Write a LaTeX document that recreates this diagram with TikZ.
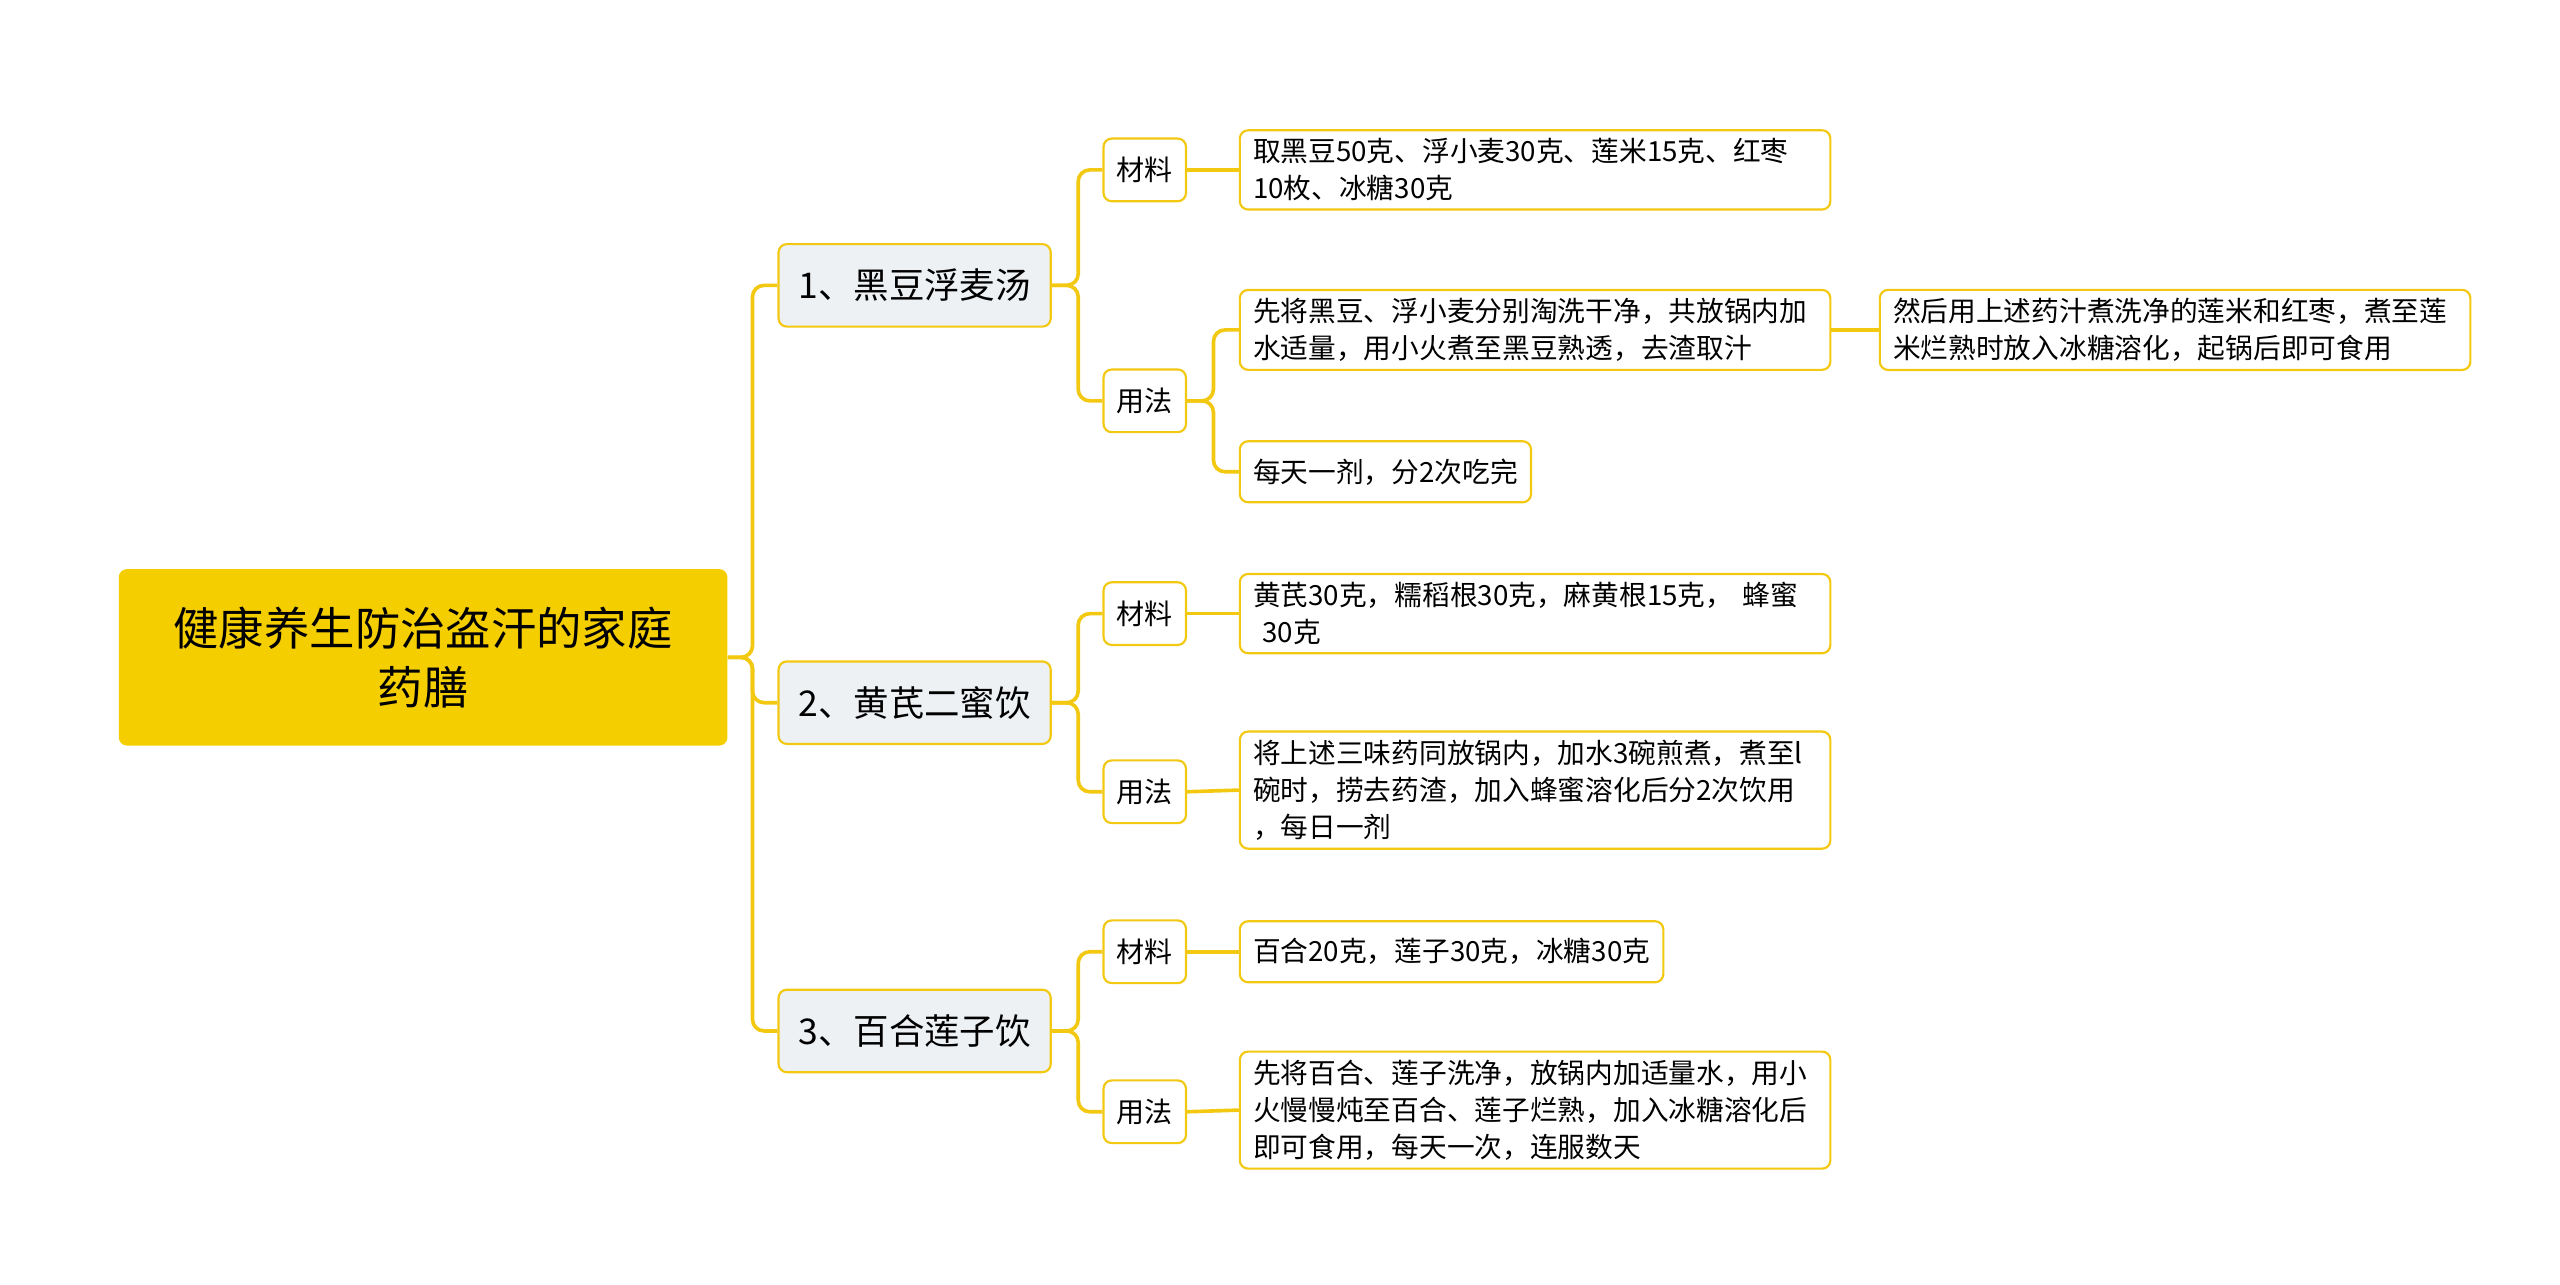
\documentclass[tikz,border=0pt]{standalone}
\usepackage{fontspec}
\newfontfamily\cjk{Noto Sans CJK SC}
\begin{document}
\begin{tikzpicture}[x=1pt,y=-1pt,
  line/.style={draw=linec,line width=2.2pt,rounded corners=7pt},
  rootbox/.style={fill=rootc,rounded corners=5pt,minimum width=369pt,minimum height=107pt,font=\cjk\fontsize{27.5}{36}\selectfont,align=center,inner sep=0pt},
  lone/.style={fill=grayc,draw=linec,line width=1.3pt,rounded corners=5pt,minimum width=165pt,minimum height=50pt,font=\cjk\fontsize{21.5}{24}\selectfont,inner sep=0pt},
  ltwo/.style={fill=white,draw=linec,line width=1.3pt,rounded corners=5pt,minimum width=50pt,minimum height=38pt,font=\cjk\fontsize{17}{20}\selectfont,inner sep=0pt},
  leaf/.style={fill=white,draw=linec,line width=1.3pt,rounded corners=5pt,anchor=west,font=\cjk\fontsize{16.8}{22.5}\selectfont,align=left,inner xsep=8pt,inner ysep=5pt,text width=342pt},
  leafs/.style={fill=white,draw=linec,line width=1.3pt,rounded corners=5pt,anchor=west,font=\cjk\fontsize{16.8}{22.5}\selectfont,inner xsep=8pt,minimum height=37pt}
]
\definecolor{linec}{HTML}{F2C811}
\definecolor{rootc}{HTML}{F5CE00}
\definecolor{grayc}{HTML}{EEF1F4}
\useasboundingbox (0,0) rectangle (1552,779);
\node[rootbox] (r) at (256.5,398.5) {健康养生防治盗汗的家庭\\药膳};
\node[lone] (a) at (554.5,173) {1、黑豆浮麦汤};
\node[lone] (b) at (554.5,426) {2、黄芪二蜜饮};
\node[lone] (c) at (554.5,625) {3、百合莲子饮};
\node[ltwo] (a1) at (694,103) {材料};
\node[ltwo] (a2) at (694,243) {用法};
\node[ltwo] (b1) at (694,372) {材料};
\node[ltwo] (b2) at (694,480) {用法};
\node[ltwo] (c1) at (694,577) {材料};
\node[ltwo] (c2) at (694,674) {用法};
\node[leaf] (l1) at (751,103) {取黑豆50克、浮小麦30克、莲米15克、红枣\\10枚、冰糖30克};
\node[leaf] (l2) at (751,200) {先将黑豆、浮小麦分别淘洗干净，共放锅内加\\水适量，用小火煮至黑豆熟透，去渣取汁};
\node[leafs] (l3) at (751,286) {每天一剂，分2次吃完};
\node[leaf] (l4) at (1139,200) {然后用上述药汁煮洗净的莲米和红枣，煮至莲\\米烂熟时放入冰糖溶化，起锅后即可食用};
\node[leaf] (l5) at (751,372) {黄芪30克，糯稻根30克，麻黄根15克， 蜂蜜\\ \ 30克};
\node[leaf] (l6) at (751,479) {将上述三味药同放锅内，加水3碗煎煮，煮至l\\碗时，捞去药渣，加入蜂蜜溶化后分2次饮用\\，每日一剂};
\node[leafs] (l7) at (751,577) {百合20克，莲子30克，冰糖30克};
\node[leaf] (l8) at (751,673) {先将百合、莲子洗净，放锅内加适量水，用小\\火慢慢炖至百合、莲子烂熟，加入冰糖溶化后\\即可食用，每天一次，连服数天};
\foreach \s/\t in {r/a,r/b,r/c}
  \draw[line] (\s.east) -- ++(15,0) |- (\t.west);
\foreach \s/\t in {a/a1,a/a2,b/b1,b/b2,c/c1,c/c2,a2/l2,a2/l3}
  \draw[line] (\s.east) -- ++(16,0) |- (\t.west);
\foreach \s/\t in {a1/l1,b1/l5,b2/l6,c1/l7,c2/l8,l2/l4}
  \draw[line] (\s.east) -- (\t.west);
\end{tikzpicture}
\end{document}
